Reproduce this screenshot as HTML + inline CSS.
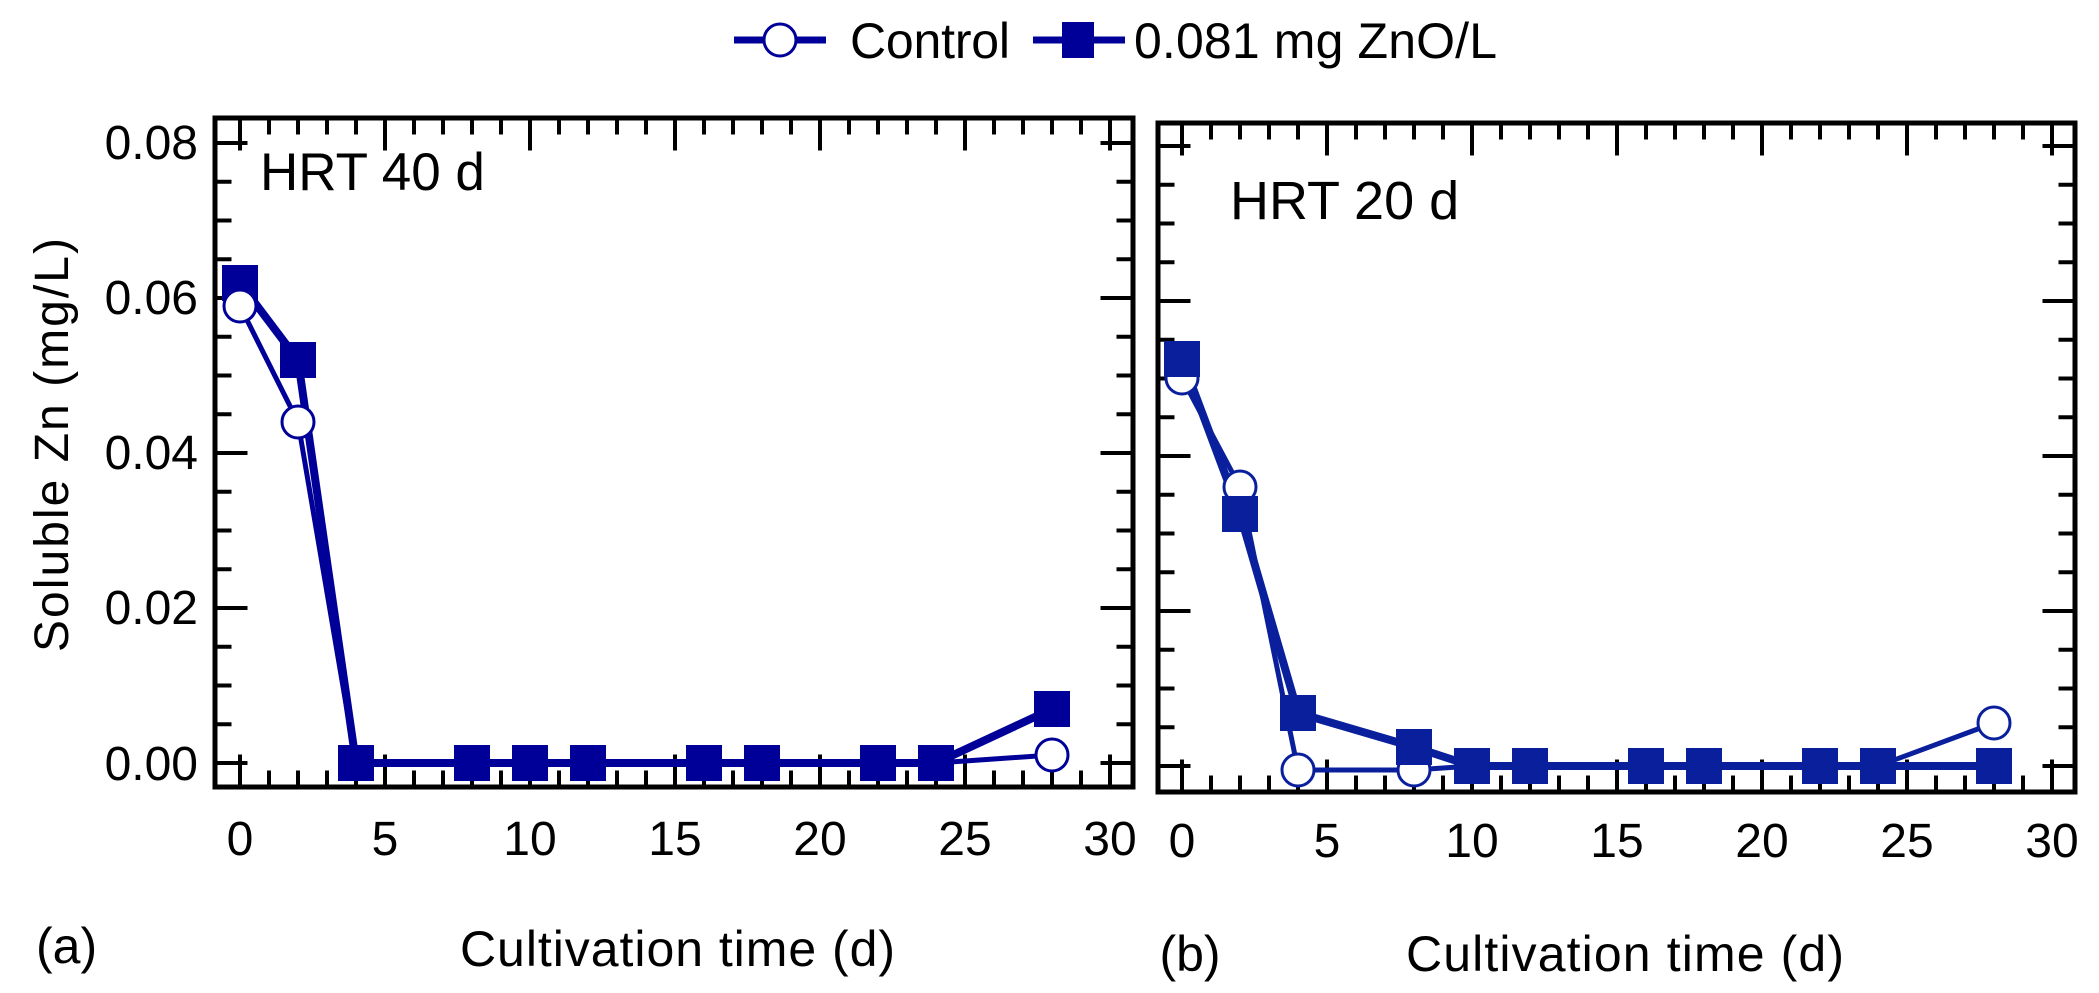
<!DOCTYPE html>
<html><head><meta charset="utf-8"><style>
html,body{margin:0;padding:0;background:#fff;}
svg{display:block;font-family:"Liberation Sans",Arial,sans-serif;}
</style></head><body>
<svg width="2099" height="993" viewBox="0 0 2099 993">
<!-- Legend -->
<g>
<line x1="734" y1="40" x2="826" y2="40" stroke="#000099" stroke-width="7"/>
<circle cx="780" cy="40" r="16" fill="#fff" stroke="#000099" stroke-width="3"/>
<text x="850" y="58" font-size="50" textLength="160">Control</text>
<line x1="1033" y1="40" x2="1125" y2="40" stroke="#000099" stroke-width="7"/>
<rect x="1062" y="22" width="32" height="36" fill="#000099"/>
<text x="1134" y="58" font-size="50" textLength="363">0.081 mg ZnO/L</text>
</g>

<!-- Panel A -->
<g stroke="#000" fill="none">
<rect x="215" y="118" width="918" height="669" stroke-width="5"/>
<line x1="238" y1="126" x2="1112" y2="126" stroke-width="17" stroke-dasharray="4 25"/>
<line x1="238" y1="134" x2="1112" y2="134" stroke-width="33" stroke-dasharray="4 141"/>
<line x1="238" y1="779" x2="1112" y2="779" stroke-width="17" stroke-dasharray="4 25"/>
<line x1="238" y1="771" x2="1112" y2="771" stroke-width="33" stroke-dasharray="4 141"/>
<line x1="223" y1="765" x2="223" y2="140" stroke-width="17" stroke-dasharray="4 34.75"/>
<line x1="231" y1="765" x2="231" y2="140" stroke-width="33" stroke-dasharray="4 151"/>
<line x1="1125" y1="765" x2="1125" y2="140" stroke-width="17" stroke-dasharray="4 34.75"/>
<line x1="1117" y1="765" x2="1117" y2="140" stroke-width="33" stroke-dasharray="4 151"/>
</g>
<g font-size="48" text-anchor="end">
<text x="198" y="159">0.08</text>
<text x="198" y="314">0.06</text>
<text x="198" y="469">0.04</text>
<text x="198" y="624">0.02</text>
<text x="198" y="780">0.00</text>
</g>
<g font-size="48" text-anchor="middle">
<text x="240" y="855">0</text>
<text x="385" y="855">5</text>
<text x="530" y="855">10</text>
<text x="675" y="855">15</text>
<text x="820" y="855">20</text>
<text x="965" y="855">25</text>
<text x="1110" y="855">30</text>
</g>
<text x="260" y="190" font-size="53">HRT 40 d</text>
<text x="460" y="966" font-size="50" textLength="435">Cultivation time (d)</text>
<text x="36" y="963" font-size="50">(a)</text>
<text transform="translate(68,445) rotate(-90)" text-anchor="middle" font-size="48" textLength="414">Soluble Zn (mg/L)</text>

<g stroke="#000099" fill="none" stroke-linejoin="round">
<polyline stroke-width="8" points="240,283 298,360 356,763 472,763 530,763 588,763 704,763 762,763 878,763 936,763 1052,709"/>
<polyline stroke-width="5" points="240,306 298,422 356,763 472,763 530,763 588,763 704,763 762,763 878,763 936,763 1052,755"/>
</g>
<g fill="#000099">
<rect x="222" y="265" width="36" height="36"/><rect x="280" y="342" width="36" height="36"/>
<rect x="338" y="745" width="36" height="36"/><rect x="454" y="745" width="36" height="36"/>
<rect x="512" y="745" width="36" height="36"/><rect x="570" y="745" width="36" height="36"/>
<rect x="686" y="745" width="36" height="36"/><rect x="744" y="745" width="36" height="36"/>
<rect x="860" y="745" width="36" height="36"/><rect x="918" y="745" width="36" height="36"/>
<rect x="1034" y="691" width="36" height="36"/>
</g>
<g fill="#fff" stroke="#000099" stroke-width="3">
<circle cx="240" cy="306" r="16"/><circle cx="298" cy="422" r="16"/><circle cx="1052" cy="755" r="16"/>
</g>

<!-- Panel B -->
<g stroke="#000" fill="none">
<rect x="1158" y="123" width="917" height="669" stroke-width="5"/>
<line x1="1180" y1="131" x2="2054" y2="131" stroke-width="17" stroke-dasharray="4 25"/>
<line x1="1180" y1="139" x2="2054" y2="139" stroke-width="33" stroke-dasharray="4 141"/>
<line x1="1180" y1="784" x2="2054" y2="784" stroke-width="17" stroke-dasharray="4 25"/>
<line x1="1180" y1="776" x2="2054" y2="776" stroke-width="33" stroke-dasharray="4 141"/>
<line x1="1166" y1="768" x2="1166" y2="143" stroke-width="17" stroke-dasharray="4 34.75"/>
<line x1="1174" y1="768" x2="1174" y2="143" stroke-width="33" stroke-dasharray="4 151"/>
<line x1="2067" y1="768" x2="2067" y2="143" stroke-width="17" stroke-dasharray="4 34.75"/>
<line x1="2059" y1="768" x2="2059" y2="143" stroke-width="33" stroke-dasharray="4 151"/>
</g>
<g font-size="48" text-anchor="middle">
<text x="1182" y="857">0</text>
<text x="1327" y="857">5</text>
<text x="1472" y="857">10</text>
<text x="1617" y="857">15</text>
<text x="1762" y="857">20</text>
<text x="1907" y="857">25</text>
<text x="2052" y="857">30</text>
</g>
<text x="1230" y="219" font-size="54">HRT 20 d</text>
<text x="1406" y="971" font-size="50" textLength="438">Cultivation time (d)</text>
<text x="1190" y="971" font-size="50" text-anchor="middle">(b)</text>

<g stroke="#0a1f9c" fill="none" stroke-linejoin="round">
<polyline stroke-width="8" points="1182,359 1240,514 1298,713 1414,747 1472,766 1530,766 1646,766 1704,766 1820,766 1878,766 1994,766"/>
<polyline stroke-width="5" points="1182,378 1240,487 1298,770 1414,770 1472,766 1530,766 1646,766 1704,766 1820,766 1878,766 1994,723"/>
</g>
<g fill="#fff" stroke="#0a1f9c" stroke-width="3">
<circle cx="1182" cy="378" r="16"/><circle cx="1240" cy="487" r="16"/>
<circle cx="1298" cy="770" r="16"/><circle cx="1414" cy="770" r="16"/>
<circle cx="1994" cy="723" r="16"/>
</g>
<g fill="#0a1f9c">
<rect x="1164" y="341" width="36" height="36"/><rect x="1222" y="496" width="36" height="36"/>
<rect x="1280" y="695" width="36" height="36"/><rect x="1396" y="729" width="36" height="36"/>
<rect x="1454" y="748" width="36" height="36"/><rect x="1512" y="748" width="36" height="36"/>
<rect x="1628" y="748" width="36" height="36"/><rect x="1686" y="748" width="36" height="36"/>
<rect x="1802" y="748" width="36" height="36"/><rect x="1860" y="748" width="36" height="36"/>
<rect x="1976" y="748" width="36" height="36"/>
</g>
</svg>
</body></html>
